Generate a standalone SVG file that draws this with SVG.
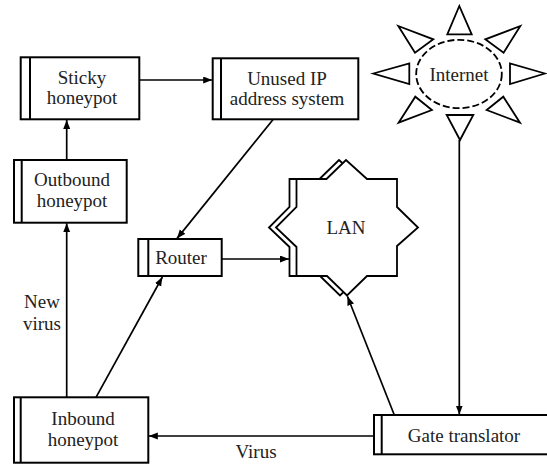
<svg xmlns="http://www.w3.org/2000/svg" width="547" height="464" viewBox="0 0 547 464">
<style>
.box{fill:#fff;stroke:#000;stroke-width:2}
.bar{stroke:#000;stroke-width:2}
.lbl{font-family:"Liberation Serif","Times New Roman",serif;font-size:19px;fill:#222;text-anchor:middle}
.conn{fill:none;stroke:#000;stroke-width:1.7}
.star{fill:#fff;stroke:#000;stroke-width:1.8;stroke-linejoin:miter}
.tri{fill:#fff;stroke:#000;stroke-width:1.8}
</style>
<defs>
<marker id="arr" markerUnits="userSpaceOnUse" markerWidth="10" markerHeight="8" refX="9" refY="3.5" orient="auto">
<path d="M0,0 L9,3.5 L0,7 z" fill="#000"/>
</marker>
<polygon id="starShape" points="296.5,179 326.5,179 346,160 367,179 397,179 397,207 418,227.5 397,246 397,276 367,276 347,295.5 327,276 296.5,276 296.5,247 276,227.5 296.5,207"/>
</defs>
<rect width="547" height="464" fill="#fff"/>

<g id="sticky">
<rect class="box" x="20.7" y="57.3" width="118.6" height="62"/>
<line class="bar" x1="30" y1="57.3" x2="30" y2="119.3"/>
<text class="lbl" x="82" y="84">Sticky</text>
<text class="lbl" x="82" y="104">honeypot</text>
</g>

<g id="unused">
<rect class="box" x="212.7" y="58.3" width="145.6" height="61"/>
<line class="bar" x1="221" y1="58.3" x2="221" y2="119.3"/>
<text class="lbl" x="287" y="84.5">Unused IP</text>
<text class="lbl" x="287" y="105">address system</text>
</g>

<g id="outbound">
<rect class="box" x="14" y="160" width="112.7" height="62.7"/>
<line class="bar" x1="21.7" y1="160" x2="21.7" y2="222.7"/>
<text class="lbl" x="72" y="186">Outbound</text>
<text class="lbl" x="72" y="207">honeypot</text>
</g>

<g id="router">
<rect class="box" x="138.3" y="239" width="83.4" height="37"/>
<line class="bar" x1="148.3" y1="239" x2="148.3" y2="276"/>
<text class="lbl" x="181" y="264">Router</text>
</g>

<g id="inbound">
<rect class="box" x="14" y="397.3" width="134.3" height="65.4"/>
<line class="bar" x1="20.7" y1="397.3" x2="20.7" y2="462.7"/>
<text class="lbl" x="83" y="425">Inbound</text>
<text class="lbl" x="83" y="446">honeypot</text>
</g>

<g id="gate">
<rect class="box" x="374" y="415" width="180" height="39.3"/>
<line class="bar" x1="381.7" y1="415" x2="381.7" y2="454.3"/>
<text class="lbl" x="464" y="442">Gate translator</text>
</g>

<g id="lan">
<use href="#starShape" class="star" transform="translate(-7,0)"/>
<use href="#starShape" class="star"/>
<text class="lbl" x="346" y="234">LAN</text>
</g>

<g id="internet">
<polygon class="tri" points="459.3,6 447.3,34.3 471.7,34.3"/>
<polygon class="tri" points="460,140 446.7,115 473.3,115"/>
<polygon class="tri" points="373.3,73.5 409.3,63.5 409.3,84"/>
<polygon class="tri" points="545,73.5 510,63.5 510,84"/>
<polygon class="tri" points="398.3,26 433.3,39.3 415,52.7"/>
<polygon class="tri" points="520.3,26 485.3,39.3 503.6,52.7"/>
<polygon class="tri" points="398.6,122.7 415.3,96.7 431.9,110"/>
<polygon class="tri" points="520,122.7 503.3,96.7 486.7,110"/>
<ellipse cx="459" cy="74" rx="42.8" ry="34.2" fill="#fff" stroke="#000" stroke-width="1.8" stroke-dasharray="7 3"/>
<text class="lbl" x="459" y="80.5">Internet</text>
</g>

<g id="connectors">
<path class="conn" d="M139.3,80 L212.2,80" marker-end="url(#arr)"/>
<path class="conn" d="M66.7,160 L66.7,120" marker-end="url(#arr)"/>
<path class="conn" d="M66.7,397.3 L66.7,223.2" marker-end="url(#arr)"/>
<path class="conn" d="M96,397.3 L162.4,277" marker-end="url(#arr)"/>
<path class="conn" d="M273.3,119.3 L176.9,238.6" marker-end="url(#arr)"/>
<path class="conn" d="M221.7,259 L289,259" marker-end="url(#arr)"/>
<path class="conn" d="M394.3,415 L347.4,296.3" marker-end="url(#arr)"/>
<path class="conn" d="M459.3,140 L459.3,414.5" marker-end="url(#arr)"/>
<path class="conn" d="M374,436 L148.8,436" marker-end="url(#arr)"/>
<text class="lbl" x="42" y="308">New</text>
<text class="lbl" x="42" y="329.5">virus</text>
<text class="lbl" x="256" y="458">Virus</text>
</g>
</svg>
